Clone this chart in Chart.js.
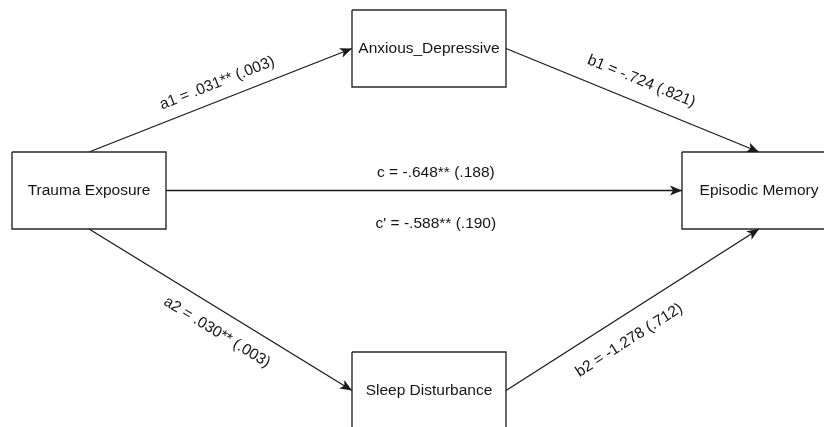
<!DOCTYPE html>
<html lang="en">
  <head>
    <meta charset="UTF-8" />
    <title>Mediation Model</title>
    <script src="https://cdn.jsdelivr.net/npm/chart.js"></script>
    <style>
      body {
        margin: 0;
        background: #fff;
      }
      .wrap {
        width: 824px;
        height: 427px;
        position: relative;
      }
    </style>
  </head>
  <body>
    <div class="wrap"><canvas id="pathChart"></canvas></div>

    <script>
      // Variables in the model
      const nodeNames = ["Trauma Exposure", "Anxious_Depressive", "Episodic Memory", "Sleep Disturbance"];
      // Paths: from -> to, with their coefficient labels
      const pathFrom = [0, 1, 0, 0, 3];
      const pathTo = [1, 2, 2, 3, 2];
      const pathLabels = ["a1 = .031** (.003)", "b1 = -.724 (.821)", "c = -.648** (.188)", "a2 = .030** (.003)", "b2 = -1.278 (.712)"];
      const directLabel = "c' = -.588** (.190)";

      // Layout (in diagram units, same as the axis range)
      const nodeX = [89, 429, 759, 429];
      const nodeY = [190.5, 48.5, 190.5, 390.5];
      const boxW = 154;
      const boxH = 77;
      const startSide = ["top", "right", "right", "bottom", "right"];
      const endSide = ["left", "top", "left", "left", "bottom"];
      const labelT = [0.511, 0.504, 0.523, 0.528, 0.436];
      const labelOffset = [-17, -21, -18, 21, 24];
      const lineColor = "#1a1a1a";
      const font = '15.5px "Liberation Sans", Arial, Helvetica, sans-serif';

      function anchor(i, side) {
        const x = nodeX[i], y = nodeY[i];
        if (side === "top") return { x: x, y: y - boxH / 2 };
        if (side === "bottom") return { x: x, y: y + boxH / 2 };
        if (side === "left") return { x: x - boxW / 2, y: y };
        return { x: x + boxW / 2, y: y };
      }

      const datasets = [];
      nodeNames.forEach((name, i) => {
        const l = nodeX[i] - boxW / 2, r = nodeX[i] + boxW / 2;
        const t = nodeY[i] - boxH / 2, b = nodeY[i] + boxH / 2;
        datasets.push({
          label: name,
          data: [{ x: l, y: t }, { x: r, y: t }, { x: r, y: b }, { x: l, y: b }, { x: l, y: t }],
          showLine: true,
          borderColor: "#2a2a2a",
          borderWidth: 1.4,
          pointRadius: 0,
          fill: false,
          clip: false,
        });
      });
      pathFrom.forEach((f, k) => {
        datasets.push({
          label: pathLabels[k],
          arrow: true,
          data: [anchor(f, startSide[k]), anchor(pathTo[k], endSide[k])],
          showLine: true,
          borderColor: lineColor,
          borderWidth: 1.3,
          pointRadius: 0,
          clip: false,
        });
      });

      const diagramPlugin = {
        id: "diagram",
        afterDatasetsDraw(chart) {
          const ctx = chart.ctx;
          const xs = chart.scales.x, ys = chart.scales.y;
          ctx.save();
          // arrowheads
          chart.data.datasets.forEach((ds) => {
            if (!ds.arrow) return;
            const p0 = ds.data[0], p1 = ds.data[1];
            const x0 = xs.getPixelForValue(p0.x), y0 = ys.getPixelForValue(p0.y);
            const x1 = xs.getPixelForValue(p1.x), y1 = ys.getPixelForValue(p1.y);
            const a = Math.atan2(y1 - y0, x1 - x0);
            ctx.save();
            ctx.translate(x1, y1);
            ctx.rotate(a);
            ctx.beginPath();
            ctx.moveTo(0, 0);
            ctx.lineTo(-12, -5);
            ctx.lineTo(-9, 0);
            ctx.lineTo(-12, 5);
            ctx.closePath();
            ctx.fillStyle = lineColor;
            ctx.fill();
            ctx.restore();
          });
          // node labels
          ctx.font = font;
          ctx.fillStyle = "#151515";
          ctx.textAlign = "center";
          ctx.textBaseline = "middle";
          nodeNames.forEach((name, i) => {
            ctx.fillText(name, xs.getPixelForValue(nodeX[i]), ys.getPixelForValue(nodeY[i]));
          });
          // coefficient labels
          const drawOnPath = (k, text, t, off) => {
            const ds = chart.data.datasets[nodeNames.length + k];
            const p0 = ds.data[0], p1 = ds.data[1];
            const x0 = xs.getPixelForValue(p0.x), y0 = ys.getPixelForValue(p0.y);
            const x1 = xs.getPixelForValue(p1.x), y1 = ys.getPixelForValue(p1.y);
            const a = Math.atan2(y1 - y0, x1 - x0);
            const cx = x0 + (x1 - x0) * t, cy = y0 + (y1 - y0) * t;
            ctx.save();
            ctx.translate(cx, cy);
            ctx.rotate(a);
            ctx.fillText(text, 0, off);
            ctx.restore();
          };
          pathLabels.forEach((text, k) => drawOnPath(k, text, labelT[k], labelOffset[k]));
          drawOnPath(2, directLabel, labelT[2], 33);
          ctx.restore();
        },
      };

      new Chart(document.getElementById("pathChart"), {
        type: "scatter",
        data: { datasets: datasets },
        options: {
          responsive: true,
          maintainAspectRatio: false,
          animation: false,
          layout: { padding: 0 },
          plugins: { legend: { display: false }, tooltip: { enabled: false } },
          scales: {
            x: { type: "linear", min: 0, max: 824, display: false },
            y: { type: "linear", min: 0, max: 427, reverse: true, display: false },
          },
        },
        plugins: [diagramPlugin],
      });
    </script>
  </body>
</html>
